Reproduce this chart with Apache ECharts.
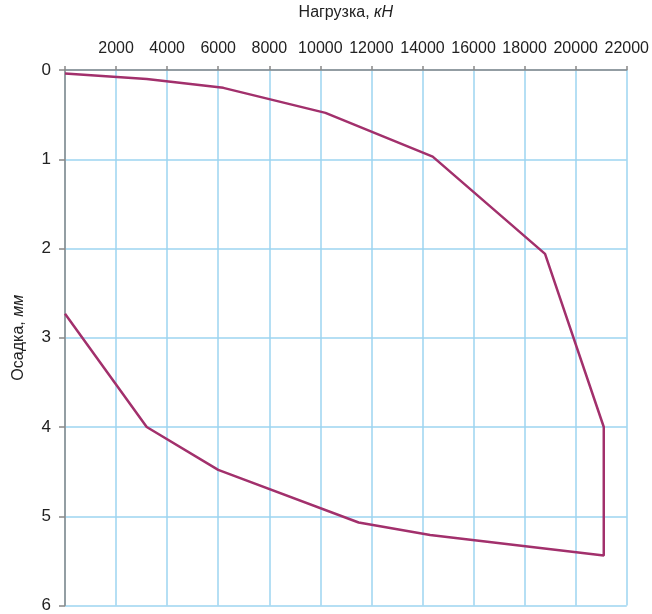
<!DOCTYPE html>
<html>
<head>
<meta charset="utf-8">
<script src="https://cdn.jsdelivr.net/npm/echarts@6/dist/echarts.min.js"></script>
<style>
html,body{margin:0;padding:0;background:#fff;}
#c{width:652px;height:614px;}
</style>
</head>
<body>
<div id="c"></div>
<script>
// Load (kN) and settlement (mm) along the loading/unloading path
var loads = [0, 3200, 6200, 10200, 14400, 18800, 21100, 21100, 14300, 11500, 6000, 3200, 0];
var settlements = [0.04, 0.1, 0.2, 0.48, 0.97, 2.06, 4.0, 5.44, 5.21, 5.07, 4.48, 4.0, 2.73];
var xTicks = [0, 22000, 2000];
var yTicks = [0, 6, 1];

var FONT = '"Liberation Sans Narrow", "Arial Narrow", "Liberation Sans", sans-serif';
var data = loads.map(function (v, i) { return [v, settlements[i]]; });

var chart = echarts.init(document.getElementById('c'), null, { renderer: 'canvas' });
chart.setOption({
  animation: false,
  backgroundColor: '#ffffff',
  grid: { left: 65, top: 69, right: 23, bottom: 4, containLabel: false },
  xAxis: {
    type: 'value',
    position: 'top',
    min: xTicks[0], max: xTicks[1], interval: xTicks[2],
    name: '{n|Нагрузка, }{i|кН}',
    nameLocation: 'middle',
    nameGap: 49,
    nameTextStyle: {
      rich: {
        n: { fontFamily: FONT, fontSize: 16, color: '#222' },
        i: { fontFamily: FONT, fontSize: 16, color: '#222', fontStyle: 'italic' }
      }
    },
    axisLine: { show: true, lineStyle: { color: '#888', width: 1.5 } },
    axisTick: { show: true, length: 4, lineStyle: { color: '#888', width: 1.5 } },
    axisLabel: {
      margin: 13,
      fontFamily: FONT, fontSize: 16, color: '#222',
      formatter: function (v) { return v === 0 ? '' : String(v); }
    },
    splitLine: { show: true, lineStyle: { color: '#9dd5f0', width: 1.5 } }
  },
  yAxis: {
    type: 'value',
    inverse: true,
    min: yTicks[0], max: yTicks[1], interval: yTicks[2],
    name: '{n|Осадка, }{i|мм}',
    nameLocation: 'middle',
    nameGap: 38,
    nameRotate: 90,
    nameTextStyle: {
      rich: {
        n: { fontFamily: FONT, fontSize: 16, color: '#222' },
        i: { fontFamily: FONT, fontSize: 16, color: '#222', fontStyle: 'italic' }
      }
    },
    axisLine: { show: true, lineStyle: { color: '#888', width: 1.5 } },
    axisTick: { show: true, length: 6, lineStyle: { color: '#888', width: 1.5 } },
    axisLabel: { margin: 14, fontFamily: FONT, fontSize: 17, color: '#222' },
    splitLine: { show: true, lineStyle: { color: '#9dd5f0', width: 1.5 } }
  },
  series: [{
    type: 'line',
    data: data,
    showSymbol: false,
    symbol: 'none',
    lineStyle: { color: '#a2306c', width: 2.5 },
    z: 5
  }]
});
</script>
</body>
</html>
